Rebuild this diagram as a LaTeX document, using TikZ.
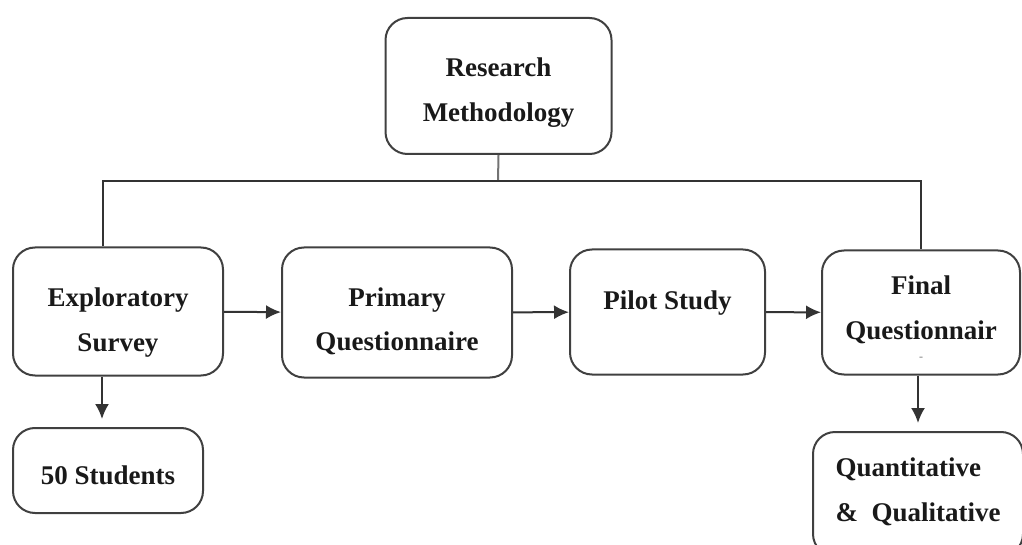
\documentclass[tikz,border=0pt]{standalone}
\usepackage{fontspec}
\setmainfont{Liberation Serif}
\usetikzlibrary{arrows.meta}
\newcommand{\stagetext}[3][c]{\raisebox{#2}[\height][\depth]{\begin{tabular}{@{}#1@{}}#3\end{tabular}}}
\tikzset{
	stage/.style = {draw = black!75, line width = 1pt, rounded corners = 11pt, font = \bfseries\fontsize{13.5}{22.5}\selectfont, text = black!90, inner sep = 0pt},
	link/.style = {draw = black!80, line width = 1pt},
	flow/.style = {link, -{Latex[length = 7.5pt, width = 7pt]}}
}
\begin{document}
\begin{tikzpicture}[x = .5pt, y = -.5pt]
	\useasboundingbox (0,0) rectangle (1022,545);
	\node[stage, minimum width = 113pt, minimum height = 68pt] (rm) at (498.5,86) {\stagetext{-2pt}{Research\\Methodology}};
	\node[stage, minimum width = 105pt, minimum height = 64pt] (explore) at (118,311.5) {\stagetext{-4pt}{Exploratory\\Survey}};
	\node[stage, minimum width = 115pt, minimum height = 65pt] (primary) at (397,312.5) {\stagetext{-3.5pt}{Primary\\Questionnaire}};
	\node[stage, minimum width = 97.5pt, minimum height = 62.5pt] (pilot) at (667.5,312) {\stagetext{6pt}{Pilot Study}};
	\node[stage, minimum width = 99pt, minimum height = 62pt] (final) at (921,312.5) {\stagetext{-3pt}{Final\\Questionnair\\[-12pt]{\color{black!45}\fontsize{6}{6}\selectfont -}}};
	\node[stage, minimum width = 95pt, minimum height = 42.5pt] (students) at (108,470.5) {\stagetext{-2.5pt}{50 Students}};
	\node[stage, minimum width = 105pt, minimum height = 62pt] (quant) at (918,494) {\stagetext[l]{2pt}{Quantitative\\\&\ \ Qualitative}};
	\coordinate (bus) at (498,181); %branch point
	\draw[link, draw = black!55] (rm.south) -- (bus);
	\draw[link] ([xshift = -7.5pt]explore.north) |- (bus) -| (final.north);
	\draw[flow] (explore) -- (primary);
	\draw[flow] (primary) -- (pilot);
	\draw[flow] (pilot) -- (final);
	\draw[flow, shorten >= 4pt] ([xshift = -8pt]explore.south) -- ([xshift = -8pt]explore.south |- students.north);
	\draw[flow, shorten >= 4pt] ([xshift = -1.5pt]final.south) -- ([xshift = -1.5pt]final.south |- quant.north);
\end{tikzpicture}
\end{document}
